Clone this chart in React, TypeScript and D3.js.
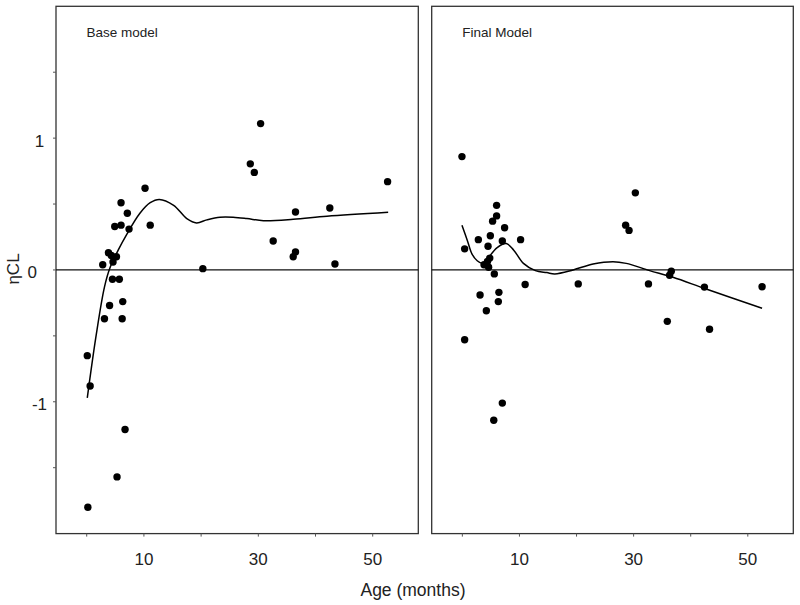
import React from "react";
import * as d3 from "d3";

// Base model: age (months) and eta CL
const baseAge = [0.1, 0.6, 0.2, 5.3, 6.7, 2.8, 3.1, 4.0, 6.3, 6.2, 4.5, 5.7, 3.8, 4.3, 5.2, 4.6, 4.9, 6.0, 6.0, 7.1, 7.4, 10.2, 11.1, 20.3, 28.6, 29.3, 30.4, 32.6, 36.1, 36.5, 36.5, 42.5, 43.4, 52.6];
const baseEta = [-0.65, -0.88, -1.80, -1.57, -1.21, 0.04, -0.37, -0.27, -0.24, -0.37, -0.07, -0.07, 0.13, 0.11, 0.10, 0.06, 0.33, 0.34, 0.51, 0.43, 0.31, 0.62, 0.34, 0.01, 0.805, 0.74, 1.11, 0.22, 0.10, 0.137, 0.44, 0.47, 0.045, 0.67];

// Base model smoother
const baseFitAge = [0.1, 1.6, 3.1, 4.1, 5.5, 7.0, 9.3, 11.1, 12.7, 15.2, 17.5, 19.2, 21.0, 23.3, 25.6, 28.0, 30.9, 36.1, 42.0, 52.7];
const baseFitEta = [-0.97, -0.51, -0.13, 0.02, 0.15, 0.27, 0.43, 0.51, 0.535, 0.49, 0.39, 0.357, 0.38, 0.40, 0.40, 0.39, 0.374, 0.384, 0.407, 0.437];

// Final model: age (months) and eta CL
const finalAge = [-0.07, 0.4, 0.4, 2.8, 6.0, 6.0, 5.3, 7.4, 4.9, 7.0, 10.2, 4.5, 4.8, 4.4, 3.8, 4.6, 5.6, 11.0, 3.1, 6.4, 6.3, 4.2, 5.5, 7.0, 20.3, 28.6, 29.2, 30.3, 32.6, 35.9, 36.6, 36.3, 42.4, 43.3, 52.5];
const finalEta = [0.86, 0.16, -0.53, 0.23, 0.49, 0.41, 0.37, 0.32, 0.26, 0.22, 0.23, 0.18, 0.09, 0.065, 0.04, 0.02, -0.03, -0.11, -0.19, -0.17, -0.24, -0.31, -1.14, -1.01, -0.106, 0.34, 0.30, 0.585, -0.106, -0.39, -0.01, -0.04, -0.13, -0.45, -0.127];

// Final model smoother
const finalFitAge = [-0.07, 0.9, 1.7, 2.6, 3.5, 4.3, 6.1, 7.7, 9.0, 10.7, 12.8, 14.8, 16.2, 19.4, 22.9, 26.4, 28.7, 32.8, 36.9, 42.7, 52.5];
const finalFitEta = [0.34, 0.22, 0.12, 0.07, 0.05, 0.08, 0.17, 0.20, 0.15, 0.05, -0.005, -0.02, -0.03, 0.0, 0.045, 0.063, 0.05, -0.005, -0.056, -0.145, -0.29];

const xTicks = [0, 10, 20, 30, 40, 50];
const xTickLabels = ["", "10", "", "30", "", "50"];
const yTicks = [-1.5, -1, -0.5, 0, 0.5, 1, 1.5];
const yTickLabels = ["", "-1", "", "0", "", "1", ""];
const panelTitles = ["Base model", "Final Model"];

const FONT = "'Liberation Sans', Arial, sans-serif";
const TOP = 6.3;
const BOTTOM = 533.6;

type PanelProps = {
  x0: number;
  x1: number;
  ages: number[];
  etas: number[];
  fitAges: number[];
  fitEtas: number[];
  title: string;
  showY: boolean;
};

const yScale = d3.scaleLinear().domain([-2.0, 2.0]).range([BOTTOM, TOP]);

function Panel({ x0, x1, ages, etas, fitAges, fitEtas, title, showY }: PanelProps) {
  const x = d3.scaleLinear().domain([-5.37, 57.97]).range([x0, x1]);
  const line = d3
    .line<number>()
    .x((_, i) => x(fitAges[i]))
    .y((d) => yScale(d))
    .curve(d3.curveCatmullRom.alpha(0.5));
  const path = line(fitEtas) || "";
  return (
    <g>
      <rect x={x0} y={TOP} width={x1 - x0} height={BOTTOM - TOP} fill="none" stroke="#333" strokeWidth={1.3} />
      <line x1={x0} x2={x1} y1={yScale(0)} y2={yScale(0)} stroke="#111" strokeWidth={1.3} />
      <path d={path} fill="none" stroke="#000" strokeWidth={1.5} />
      {ages.map((a, i) => (
        <circle key={i} cx={x(a)} cy={yScale(etas[i])} r={3.7} fill="#000" />
      ))}
      {xTicks.map((t, i) => (
        <g key={t}>
          <line x1={x(t)} x2={x(t)} y1={BOTTOM} y2={BOTTOM + 3} stroke="#555" strokeWidth={1} />
          {xTickLabels[i] && (
            <text x={x(t)} y={565} textAnchor="middle" fontFamily={FONT} fontSize={17} fill="#222">
              {xTickLabels[i]}
            </text>
          )}
        </g>
      ))}
      {showY &&
        yTicks.map((t, i) => (
          <g key={t}>
            <line x1={x0 - 3} x2={x0} y1={yScale(t)} y2={yScale(t)} stroke="#555" strokeWidth={1} />
            {yTickLabels[i] && (
              <text
                x={yTickLabels[i] === "0" ? 32.3 : 39.5}
                y={yScale(t) + 3}
                textAnchor="middle"
                dominantBaseline="central"
                fontFamily={FONT}
                fontSize={17}
                fill="#222"
              >
                {yTickLabels[i]}
              </text>
            )}
          </g>
        ))}
      <text x={x0 + 30.5} y={36.5} fontFamily={FONT} fontSize={13.5} fill="#222">
        {title}
      </text>
    </g>
  );
}

export default function App() {
  return (
    <svg width={800} height={605} style={{ position: "absolute", left: 0, top: 0, background: "#fff" }}>
      <rect x={0} y={0} width={800} height={605} fill="#fff" />
      <Panel x0={56} x1={418.3} ages={baseAge} etas={baseEta} fitAges={baseFitAge} fitEtas={baseFitEta} title={panelTitles[0]} showY={true} />
      <Panel x0={431.7} x1={793.3} ages={finalAge} etas={finalEta} fitAges={finalFitAge} fitEtas={finalFitEta} title={panelTitles[1]} showY={false} />
      <text
        transform="translate(13.5,269) rotate(-90)"
        textAnchor="middle"
        dominantBaseline="central"
        fontFamily={FONT}
        fontSize={17}
        fill="#222"
      >
        ηCL
      </text>
      <text x={413} y={596} textAnchor="middle" fontFamily={FONT} fontSize={17.5} fill="#222">
        Age (months)
      </text>
    </svg>
  );
}
